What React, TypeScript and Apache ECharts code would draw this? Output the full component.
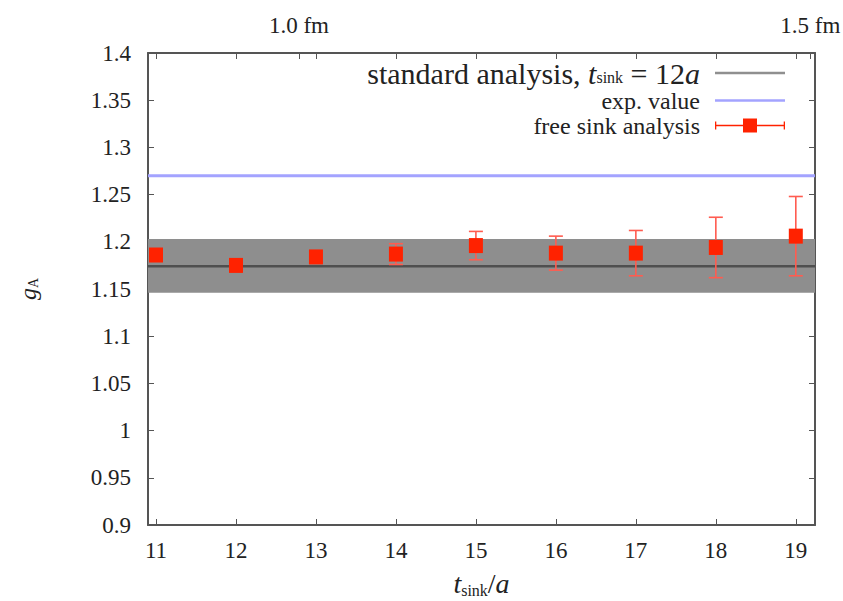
import React, { useEffect, useRef } from "react";
import * as echarts from "echarts";

// ---- data ----
const tSink = [11, 12, 13, 14, 15, 16, 17, 18, 19];
const gA = [1.186, 1.175, 1.184, 1.187, 1.196, 1.188, 1.188, 1.194, 1.206];
const gAErr = [0.005, 0.005, 0.006, 0.011, 0.015, 0.018, 0.024, 0.032, 0.042];

const stdCenter = 1.174;
const stdLow = 1.146;
const stdHigh = 1.203;
const expValue = 1.27;

const xTicks = [11, 12, 13, 14, 15, 16, 17, 18, 19];
const fmValues = [1.0, 1.5];
const fmLabels = ["1.0 fm", "1.5 fm"];
const latticeSpacing = 0.0782; // fm
const fmPositions = fmValues.map((f) => f / latticeSpacing);

const xMin = 10.9;
const xMax = 19.24;
const yMin = 0.9;
const yMax = 1.4;
const yStep = 0.05;

const NAME_STD = "standard analysis, t_sink = 12a";
const NAME_EXP = "exp. value";
const NAME_FREE = "free sink analysis";

const SERIF = "Liberation Serif";
const TXT = "#222";
const AX = "#555";

export default function App() {
  const ref = useRef<HTMLDivElement>(null);
  useEffect(() => {
    if (!ref.current) return;
    const chart = echarts.init(ref.current, null, { renderer: "svg" });

    const axisCommon = {
      axisLine: { show: true, onZero: false, lineStyle: { color: AX, width: 2 } },
      axisTick: { show: true, inside: true, length: 6, lineStyle: { color: AX, width: 1 } },
      splitLine: { show: false },
    };

    const LH = 25;

    const option: any = {
      animation: false,
      backgroundColor: "#fff",
      textStyle: { fontFamily: SERIF },
      grid: {
        left: 148,
        right: 28,
        top: 53,
        bottom: 76,
        containLabel: false,
        outerBoundsMode: "none",
      },
      legend: {
        orient: "vertical",
        align: "right",
        right: 58,
        top: 58,
        padding: 0,
        itemWidth: 70,
        itemHeight: 14,
        itemGap: 0,
        selectedMode: false,
        data: [
          { name: NAME_STD, icon: "path://M0,5.8H70V8.2H0Z" },
          { name: NAME_EXP, icon: "path://M0,5.8H70V8.2H0Z" },
          {
            name: NAME_FREE,
            icon:
              "path://M0,6.3H70V7.7H0Z M0,3H1.3V11H0Z M68.7,3H70V11H68.7Z M28,0H42V14H28Z",
          },
        ],
        formatter: (name: string) => {
          if (name === NAME_STD) return "{a|standard analysis, }{ai|t}{as|sink}{a| = 12}{ai|a}{g|}";
          return "{n|" + name + "}{g|}";
        },
        textStyle: {
          fontFamily: SERIF,
          fontSize: 24,
          lineHeight: LH,
          color: TXT,
          rich: {
            n: { fontFamily: SERIF, fontSize: 24, color: TXT, lineHeight: LH },
            g: { width: 10, lineHeight: LH },
            a: { fontFamily: SERIF, fontSize: 30, color: TXT, lineHeight: LH },
            ai: { fontFamily: SERIF, fontSize: 30, fontStyle: "italic", color: TXT, lineHeight: LH },
            as: { fontFamily: SERIF, fontSize: 16, color: TXT, lineHeight: 6, verticalAlign: "bottom" },
          },
        },
      },
      xAxis: [
        {
          type: "value",
          position: "bottom",
          min: xMin,
          max: xMax,
          ...axisCommon,
          axisTick: { ...axisCommon.axisTick, customValues: xTicks },
          axisLabel: {
            customValues: xTicks,
            margin: 14,
            fontFamily: SERIF,
            fontSize: 23,
            color: TXT,
          },
          name: "{i|t}{s|sink}{n|/}{i|a}",
          nameLocation: "middle",
          nameGap: 43,
          nameTextStyle: {
            fontFamily: SERIF,
            rich: {
              n: { fontFamily: SERIF, fontSize: 28, color: TXT, lineHeight: 30 },
              i: { fontFamily: SERIF, fontSize: 28, fontStyle: "italic", color: TXT, lineHeight: 30 },
              s: { fontFamily: SERIF, fontSize: 16, color: TXT, lineHeight: 12, verticalAlign: "bottom" },
            },
          },
        },
        {
          type: "value",
          position: "top",
          min: xMin,
          max: xMax,
          ...axisCommon,
          axisTick: { ...axisCommon.axisTick, customValues: [...xTicks, ...fmPositions] },
          axisLabel: {
            customValues: fmPositions,
            margin: 16,
            fontFamily: SERIF,
            fontSize: 23,
            color: TXT,
            formatter: (v: number) => {
              let best = 0;
              fmPositions.forEach((p, k) => {
                if (Math.abs(p - v) < Math.abs(fmPositions[best] - v)) best = k;
              });
              return fmLabels[best];
            },
          },
        },
      ],
      yAxis: [
        {
          type: "value",
          position: "left",
          min: yMin,
          max: yMax,
          interval: yStep,
          ...axisCommon,
          axisLabel: {
            margin: 17,
            fontFamily: SERIF,
            fontSize: 23,
            color: TXT,
            formatter: (v: number) => String(parseFloat(v.toFixed(2))),
          },
          name: "{i|g}{s|A}",
          nameLocation: "middle",
          nameGap: 108,
          nameRotate: 90,
          nameTextStyle: {
            fontFamily: SERIF,
            rich: {
              i: { fontFamily: SERIF, fontSize: 24, fontStyle: "italic", color: TXT, lineHeight: 24 },
              s: { fontFamily: SERIF, fontSize: 14, color: TXT, lineHeight: 8, verticalAlign: "bottom" },
            },
          },
        },
        {
          type: "value",
          position: "right",
          min: yMin,
          max: yMax,
          interval: yStep,
          ...axisCommon,
          axisLabel: { show: false },
        },
      ],
      series: [
        {
          name: NAME_STD,
          type: "line",
          xAxisIndex: 0,
          yAxisIndex: 0,
          data: [
            [xMin, stdCenter],
            [xMax, stdCenter],
          ],
          symbol: "none",
          color: "#8f8f8f",
          lineStyle: { color: "#4f4f4f", width: 2.5 },
          z: 3,
          markArea: {
            silent: true,
            label: { show: false },
            itemStyle: { color: "#8e8e8e", opacity: 1 },
            data: [[{ yAxis: stdLow }, { yAxis: stdHigh }]],
          },
        },
        {
          name: NAME_EXP,
          type: "line",
          xAxisIndex: 0,
          yAxisIndex: 0,
          data: [
            [xMin, expValue],
            [xMax, expValue],
          ],
          symbol: "none",
          color: "#a3a3ff",
          lineStyle: { color: "#a3a3ff", width: 3 },
          z: 3,
        },
        {
          name: NAME_FREE,
          type: "custom",
          xAxisIndex: 0,
          yAxisIndex: 0,
          color: "#ff2200",
          z: 10,
          data: tSink.map((t, k) => [t, gA[k], gAErr[k]]),
          encode: { x: 0, y: 1 },
          renderItem: (params: any, api: any) => {
            const x = api.value(0);
            const y = api.value(1);
            const e = api.value(2);
            const p = api.coord([x, y]);
            const pt = api.coord([x, y + e]);
            const pb = api.coord([x, y - e]);
            const errStyle = { stroke: "#ff5c50", lineWidth: 1.6 };
            return {
              type: "group",
              children: [
                { type: "line", shape: { x1: p[0], y1: pt[1], x2: p[0], y2: pb[1] }, style: errStyle },
                { type: "line", shape: { x1: p[0] - 7, y1: pt[1], x2: p[0] + 7, y2: pt[1] }, style: errStyle },
                { type: "line", shape: { x1: p[0] - 7, y1: pb[1], x2: p[0] + 7, y2: pb[1] }, style: errStyle },
                {
                  type: "rect",
                  shape: { x: p[0] - 7, y: p[1] - 7.5, width: 14, height: 15 },
                  style: { fill: "#ff2200" },
                },
              ],
            };
          },
        },
      ],
    };

    chart.setOption(option);
    return () => chart.dispose();
  }, []);

  return <div ref={ref} style={{ width: 843, height: 601, position: "absolute", left: 0, top: 0 }} />;
}
